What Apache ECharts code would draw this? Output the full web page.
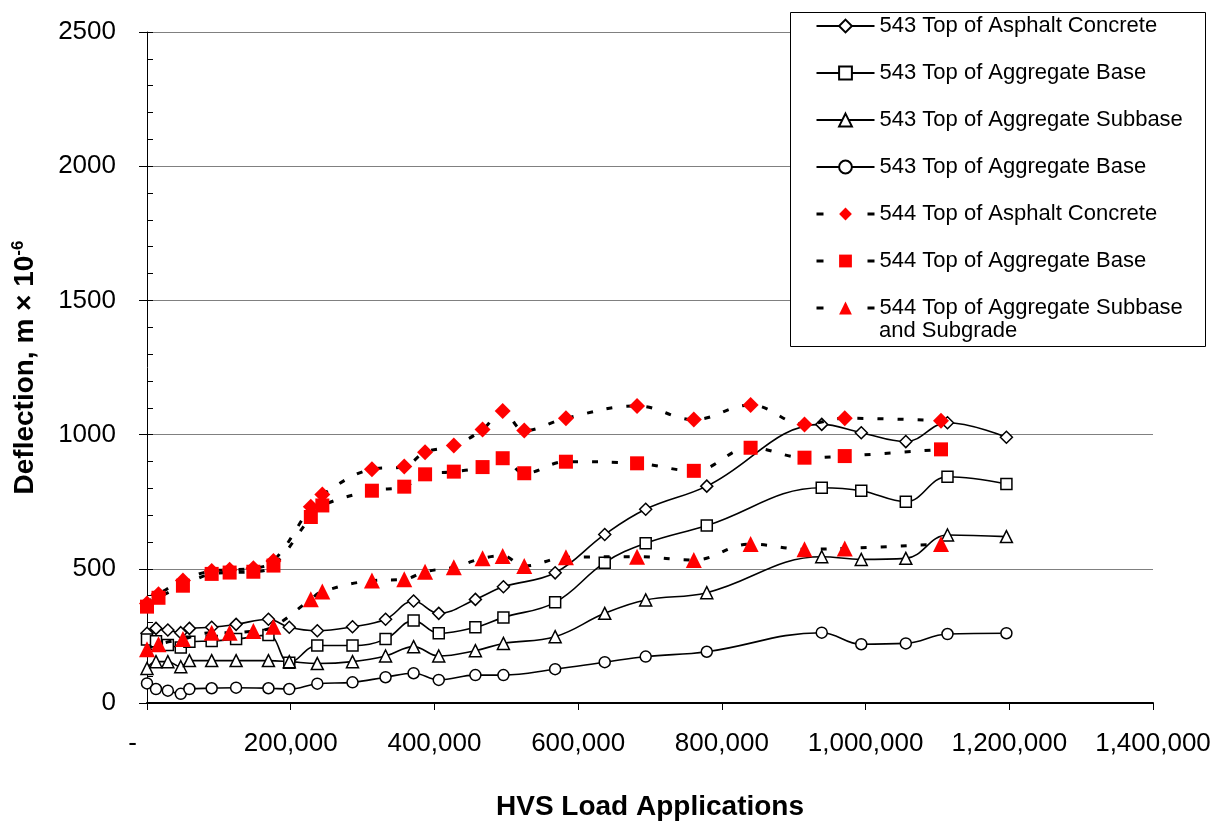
<!DOCTYPE html>
<html>
<head>
<meta charset="utf-8">
<title>HVS Deflection</title>
<script src="https://cdn.jsdelivr.net/npm/echarts@6/dist/echarts.min.js"></script>
<style>
  html, body { margin: 0; padding: 0; background: #fff; }
  #chart { width: 1228px; height: 821px; }
</style>
</head>
<body>
<div id="chart"></div>
<script>
// Section 543: load applications and deflections (m x 10^-6) at each depth
const loads543 = [0, 12500, 29000, 47000, 59000, 90000, 124000, 169000, 198000, 237000,
  286000, 332000, 371000, 406000, 457000, 496000, 568000, 637000, 694000, 779000,
  939000, 994000, 1056000, 1114000, 1196000];
const ac543 = [260, 278, 272, 262, 278, 282, 293, 312, 282, 269,
  284, 312, 380, 334, 386, 433, 485, 628, 722, 808,
  1038, 1007, 974, 1044, 990];
const base543 = [237, 230, 216, 207, 228, 231, 238, 253, 150, 214,
  214, 238, 307, 260, 282, 319, 375, 523, 595, 661,
  802, 791, 750, 843, 816];
const subbase543 = [129, 154, 154, 135, 158, 158, 158, 158, 154, 147,
  154, 175, 210, 175, 195, 222, 247, 334, 384, 411,
  545, 535, 539, 626, 620];
const baseB543 = [73, 52, 46, 34, 52, 55, 57, 55, 52, 72,
  77, 96, 111, 86, 104, 104, 126, 152, 173, 191,
  262, 219, 222, 257, 260];

// Section 544
const loads544 = [0, 16000, 50000, 90000, 115000, 148000, 176000, 228000, 244000, 313000,
  358000, 387000, 427000, 467000, 495000, 525000, 583000, 682000, 761000, 840000,
  915000, 971000, 1105000];
const ac544 = [371, 405, 456, 492, 496, 502, 529, 731, 777, 871,
  881, 934, 959, 1019, 1088, 1015, 1061, 1107, 1056, 1110,
  1038, 1061, 1052];
const base544 = [359, 392, 437, 481, 486, 489, 512, 693, 736, 791,
  806, 852, 862, 879, 912, 856, 899, 893, 865, 951,
  914, 920, 945];
const subbase544 = [200, 219, 238, 262, 262, 268, 284, 387, 415, 456,
  461, 489, 506, 539, 548, 510, 543, 545, 533, 592,
  573, 576, 592];

// Series names; the 4th repeats a label, so it carries a suffix that the legend strips
const seriesNames = [
  '543 Top of Asphalt Concrete',
  '543 Top of Aggregate Base',
  '543 Top of Aggregate Subbase',
  '543 Top of Aggregate Base (2)',
  '544 Top of Asphalt Concrete',
  '544 Top of Aggregate Base',
  '544 Top of Aggregate Subbase and Subgrade'
];
const legendLabels = {
  '543 Top of Aggregate Base (2)': '543 Top of Aggregate Base',
  '544 Top of Aggregate Subbase and Subgrade': '544 Top of Aggregate Subbase'
};

const xTickStep = 200000;
const xMax = 1400000;
const yTickStep = 500;
const yMax = 2500;

const FONT = "'Liberation Sans', Arial, Helvetica, sans-serif";

function pairs(xs, ys) {
  return xs.map((x, i) => [x, ys[i]]);
}

function series543(name, xs, ys, symbol, size) {
  return {
    name: name,
    type: 'line',
    data: pairs(xs, ys),
    smooth: 0.4,
    symbol: symbol,
    symbolSize: size,
    showAllSymbol: true,
    lineStyle: { color: '#000', width: 1.6, type: 'solid' },
    itemStyle: { color: '#fff', borderColor: '#000', borderWidth: 1.5 },
    emphasis: { disabled: true },
    z: 2
  };
}

function series544(name, xs, ys, symbol, size) {
  return {
    name: name,
    type: 'line',
    data: pairs(xs, ys),
    smooth: 0.4,
    symbol: symbol,
    symbolSize: size,
    showAllSymbol: true,
    lineStyle: { color: '#000', width: 3, type: [6, 14] },
    itemStyle: { color: '#ff0000', borderWidth: 0 },
    emphasis: { disabled: true },
    z: 3
  };
}

// legend entries: the dashed ones show a short dash at each end of the sample
const legendData = seriesNames.map((name, i) => i < 4
  ? { name: name }
  : { name: name, lineStyle: { color: '#000', width: 3, type: [7, 44] } });

const chart = echarts.init(document.getElementById('chart'), null, { renderer: 'canvas' });

chart.setOption({
  animation: false,
  backgroundColor: '#fff',
  textStyle: { fontFamily: FONT },
  grid: { left: 147, right: 75, top: 32, bottom: 118, containLabel: false, outerBoundsMode: 'none' },
  xAxis: {
    type: 'value',
    min: 0,
    max: xMax,
    interval: xTickStep,
    name: 'HVS Load Applications',
    nameLocation: 'middle',
    nameGap: 90,
    nameTextStyle: { fontFamily: FONT, fontSize: 28, fontWeight: 'bold', color: '#000' },
    axisLine: { show: true, onZero: false, lineStyle: { color: '#000', width: 2 } },
    axisTick: { show: true, inside: false, length: 7, lineStyle: { color: '#000', width: 1 } },
    axisLabel: {
      fontFamily: FONT, fontSize: 26, color: '#000', margin: 28,
      formatter: v => v === 0 ? '-    ' : v.toLocaleString('en-US')
    },
    splitLine: { show: false }
  },
  yAxis: [
    {
      type: 'value',
      min: 0,
      max: yMax,
      interval: yTickStep,
      position: 'left',
      name: 'Deflection, m × 10{sup|-6}',
      nameLocation: 'middle',
      nameGap: 106,
      nameTextStyle: {
        fontFamily: FONT, fontSize: 28, fontWeight: 'bold', color: '#000',
        rich: {
          sup: { fontFamily: FONT, fontSize: 17, fontWeight: 'bold', color: '#000', verticalAlign: 'top', padding: [0, 0, 14, 0] }
        }
      },
      axisLine: { show: true, lineStyle: { color: '#000', width: 1 } },
      axisTick: { show: true, inside: false, length: 8, lineStyle: { color: '#000', width: 1 } },
      axisLabel: { fontFamily: FONT, fontSize: 26, color: '#000', margin: 31, formatter: v => String(v) },
      splitLine: { show: true, lineStyle: { color: '#808080', width: 1 } }
    },
    {
      // minor ticks every 100, drawn on the inside of the axis
      type: 'value',
      min: 0,
      max: yMax,
      interval: 100,
      position: 'left',
      axisLine: { show: false },
      axisTick: { show: true, inside: true, length: 6, lineStyle: { color: '#000', width: 1 } },
      axisLabel: { show: false },
      splitLine: { show: false }
    }
  ],
  legend: {
    orient: 'vertical',
    left: 790,
    top: 12,
    padding: [2, 0, 0, 25],
    itemWidth: 58,
    itemHeight: 16,
    itemGap: 23,
    selectedMode: false,
    data: legendData,
    formatter: name => legendLabels[name] || name,
    textStyle: { fontFamily: FONT, fontSize: 22, color: '#000', lineHeight: 24 },
    z: 5
  },
  graphic: [
    {
      type: 'rect',
      z: 4,
      shape: { x: 790.5, y: 12.5, width: 415, height: 334 },
      style: { fill: '#fff', stroke: '#000', lineWidth: 1 }
    },
    {
      type: 'text',
      z: 6,
      x: 879,
      y: 331,
      style: {
        text: 'and Subgrade',
        font: '22px ' + FONT,
        fill: '#000',
        textAlign: 'left',
        verticalAlign: 'middle'
      }
    }
  ],
  series: [
    series543(seriesNames[0], loads543, ac543, 'diamond', 12),
    series543(seriesNames[1], loads543, base543, 'rect', 11),
    series543(seriesNames[2], loads543, subbase543, 'triangle', 12),
    series543(seriesNames[3], loads543, baseB543, 'circle', 11),
    series544(seriesNames[4], loads544, ac544, 'diamond', 16),
    series544(seriesNames[5], loads544, base544, 'rect', 14),
    series544(seriesNames[6], loads544, subbase544, 'triangle', 16)
  ]
});
</script>
</body>
</html>
